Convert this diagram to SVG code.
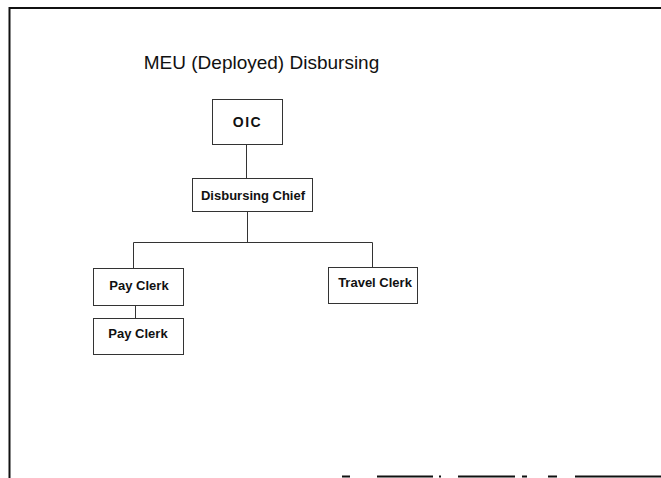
<svg xmlns="http://www.w3.org/2000/svg" width="661" height="478" viewBox="0 0 661 478">
<style>
.frame{stroke:#111;stroke-width:2;fill:none}
.box{fill:#fff;stroke:#333;stroke-width:1}
.conn{stroke:#333;stroke-width:1;fill:none}
.lbl{font-family:"Liberation Sans",Arial,sans-serif;font-size:13px;font-weight:bold;fill:#111;text-anchor:middle}
.title{font-family:"Liberation Sans",Arial,sans-serif;font-size:19px;fill:#111;text-anchor:middle}
</style>
<rect width="661" height="478" fill="#fff"/>
<g id="frame">
<path class="frame" d="M9.5,478 V8 H661"/>
<path class="frame" d="M342,476.5 H350 M377,476.5 H433 M439,476.5 H441 M458,476.5 H515 M522,476.5 H527 M548,476.5 H557 M575,476.5 H661" stroke-width="1.5"/>
</g>
<text class="title" x="261.5" y="69">MEU (Deployed) Disbursing</text>
<g id="connectors">
<path class="conn" d="M246.5,145 V178"/>
<path class="conn" d="M247.5,212 V242.5 M133.5,268 V242.5 H372.5 V267"/>
<path class="conn" d="M135.5,306 V318"/>
</g>
<g id="oic">
<rect class="box" x="212.5" y="99.5" width="70" height="45"/>
<text class="lbl" x="247.5" y="127" style="font-size:14px;letter-spacing:1.5px">OIC</text>
</g>
<g id="chief">
<rect class="box" x="192.5" y="178.5" width="120" height="33"/>
<text class="lbl" x="253" y="199.5">Disbursing Chief</text>
</g>
<g id="payclerk1">
<rect class="box" x="93.5" y="268.5" width="90" height="37"/>
<text class="lbl" x="139" y="290">Pay Clerk</text>
</g>
<g id="travelclerk">
<rect class="box" x="328.5" y="267.5" width="89" height="36"/>
<text class="lbl" x="375" y="287">Travel Clerk</text>
</g>
<g id="payclerk2">
<rect class="box" x="93.5" y="318.5" width="90" height="36"/>
<text class="lbl" x="138" y="338">Pay Clerk</text>
</g>
</svg>
